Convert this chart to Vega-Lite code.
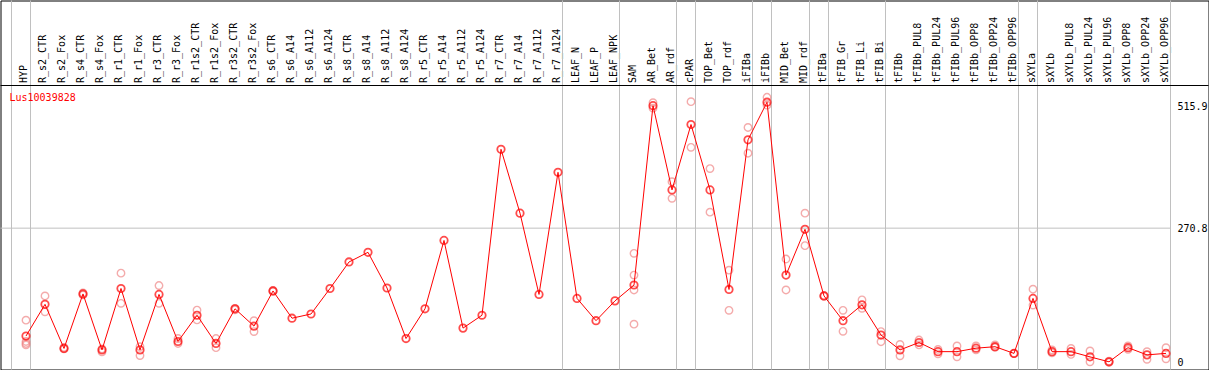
{
  "$schema": "https://vega.github.io/schema/vega-lite/v6.json",
  "width": 1208,
  "height": 369,
  "autosize": "none",
  "padding": {"left": 0.5, "top": 0.5, "right": 0, "bottom": 0},
  "background": "white",
  "config": {
    "view": {"stroke": "black", "strokeWidth": 1},
    "font": "DejaVu Sans Mono",
    "axis": {"labelOverlap": false, "labelFlush": false, "grid": false, "ticks": false, "domain": false, "title": null}
  },
  "title": {
    "text": "Lus10039828",
    "color": "#ff0000",
    "font": "DejaVu Sans Mono",
    "fontSize": 10,
    "fontWeight": "normal",
    "anchor": "start",
    "frame": "group",
    "orient": "top",
    "baseline": "alphabetic",
    "offset": 0,
    "dx": 9,
    "dy": 111
  },
  "datasets": {
    "pts": [
      {"i": 0, "name": "HYP", "v": 53},
      {"i": 1, "name": "R_s2_CTR", "v": 117},
      {"i": 2, "name": "R_s2_Fox", "v": 28},
      {"i": 3, "name": "R_s4_CTR", "v": 138},
      {"i": 4, "name": "R_s4_Fox", "v": 25},
      {"i": 5, "name": "R_r1_CTR", "v": 149},
      {"i": 6, "name": "R_r1_Fox", "v": 25},
      {"i": 7, "name": "R_r3_CTR", "v": 137},
      {"i": 8, "name": "R_r3_Fox", "v": 42},
      {"i": 9, "name": "R_r1s2_CTR", "v": 95},
      {"i": 10, "name": "R_r1s2_Fox", "v": 38},
      {"i": 11, "name": "R_r3s2_CTR", "v": 108},
      {"i": 12, "name": "R_r3s2_Fox", "v": 73},
      {"i": 13, "name": "R_s6_CTR", "v": 144},
      {"i": 14, "name": "R_s6_A14", "v": 89},
      {"i": 15, "name": "R_s6_A112", "v": 97.5},
      {"i": 16, "name": "R_s6_A124", "v": 149},
      {"i": 17, "name": "R_s8_CTR", "v": 202.5},
      {"i": 18, "name": "R_s8_A14", "v": 222},
      {"i": 19, "name": "R_s8_A112", "v": 150},
      {"i": 20, "name": "R_s8_A124", "v": 48},
      {"i": 21, "name": "R_r5_CTR", "v": 108},
      {"i": 22, "name": "R_r5_A14", "v": 246},
      {"i": 23, "name": "R_r5_A112", "v": 69},
      {"i": 24, "name": "R_r5_A124", "v": 95},
      {"i": 25, "name": "R_r7_CTR", "v": 430},
      {"i": 26, "name": "R_r7_A14", "v": 301},
      {"i": 27, "name": "R_r7_A112", "v": 137},
      {"i": 28, "name": "R_r7_A124", "v": 383.5},
      {"i": 29, "name": "LEAF_N", "v": 129},
      {"i": 30, "name": "LEAF_P", "v": 84},
      {"i": 31, "name": "LEAF_NPK", "v": 124},
      {"i": 32, "name": "SAM", "v": 156},
      {"i": 33, "name": "AR_Bet", "v": 518},
      {"i": 34, "name": "AR_rdf", "v": 348},
      {"i": 35, "name": "cPAR", "v": 480},
      {"i": 36, "name": "TOP_Bet", "v": 348},
      {"i": 37, "name": "TOP_rdf", "v": 147},
      {"i": 38, "name": "iFIBa", "v": 449},
      {"i": 39, "name": "iFIBb", "v": 525},
      {"i": 40, "name": "MID_Bet", "v": 176},
      {"i": 41, "name": "MID_rdf", "v": 268.5},
      {"i": 42, "name": "tFIBa", "v": 134},
      {"i": 43, "name": "tFIB_Gr", "v": 84},
      {"i": 44, "name": "tFIB_Li", "v": 116},
      {"i": 45, "name": "tFIB_Bi", "v": 55},
      {"i": 46, "name": "tFIBb", "v": 25},
      {"i": 47, "name": "tFIBb_PUL8", "v": 40},
      {"i": 48, "name": "tFIBb_PUL24", "v": 21.5},
      {"i": 49, "name": "tFIBb_PUL96", "v": 21.5},
      {"i": 50, "name": "tFIBb_OPP8", "v": 28.5},
      {"i": 51, "name": "tFIBb_OPP24", "v": 31.5},
      {"i": 52, "name": "tFIBb_OPP96", "v": 18},
      {"i": 53, "name": "sXYLa", "v": 129},
      {"i": 54, "name": "sXYLb", "v": 21.5},
      {"i": 55, "name": "sXYLb_PUL8", "v": 21.5},
      {"i": 56, "name": "sXYLb_PUL24", "v": 11},
      {"i": 57, "name": "sXYLb_PUL96", "v": 1},
      {"i": 58, "name": "sXYLb_OPP8", "v": 29.5},
      {"i": 59, "name": "sXYLb_OPP24", "v": 15},
      {"i": 60, "name": "sXYLb_OPP96", "v": 18}
    ],
    "reps": [
      {"i": 0, "v": 85}, {"i": 0, "v": 42}, {"i": 0, "v": 38}, {"i": 0, "v": 35},
      {"i": 1, "v": 134}, {"i": 1, "v": 102},
      {"i": 2, "v": 27}, {"i": 2, "v": 30},
      {"i": 3, "v": 140}, {"i": 3, "v": 136},
      {"i": 4, "v": 27}, {"i": 4, "v": 21},
      {"i": 5, "v": 180}, {"i": 5, "v": 119},
      {"i": 6, "v": 31.5}, {"i": 6, "v": 13.5},
      {"i": 7, "v": 155}, {"i": 7, "v": 119},
      {"i": 8, "v": 48}, {"i": 8, "v": 38},
      {"i": 9, "v": 105.5}, {"i": 9, "v": 85.5},
      {"i": 10, "v": 48}, {"i": 10, "v": 29.5},
      {"i": 11, "v": 106}, {"i": 11, "v": 109},
      {"i": 12, "v": 84}, {"i": 12, "v": 62},
      {"i": 13, "v": 143}, {"i": 13, "v": 145},
      {"i": 32, "v": 220}, {"i": 32, "v": 176}, {"i": 32, "v": 146}, {"i": 32, "v": 77},
      {"i": 33, "v": 524}, {"i": 33, "v": 513},
      {"i": 34, "v": 364.5}, {"i": 34, "v": 331},
      {"i": 35, "v": 526}, {"i": 35, "v": 434},
      {"i": 36, "v": 391}, {"i": 36, "v": 303},
      {"i": 37, "v": 186}, {"i": 37, "v": 105},
      {"i": 38, "v": 474}, {"i": 38, "v": 422},
      {"i": 39, "v": 535}, {"i": 39, "v": 519},
      {"i": 40, "v": 208.5}, {"i": 40, "v": 146},
      {"i": 41, "v": 301}, {"i": 41, "v": 235.5},
      {"i": 42, "v": 133}, {"i": 42, "v": 135},
      {"i": 43, "v": 105}, {"i": 43, "v": 62.5},
      {"i": 44, "v": 126}, {"i": 44, "v": 109},
      {"i": 45, "v": 62}, {"i": 45, "v": 41.5},
      {"i": 46, "v": 36}, {"i": 46, "v": 13},
      {"i": 47, "v": 45}, {"i": 47, "v": 35},
      {"i": 48, "v": 26}, {"i": 48, "v": 17},
      {"i": 49, "v": 33}, {"i": 49, "v": 11},
      {"i": 50, "v": 33}, {"i": 50, "v": 25},
      {"i": 51, "v": 35}, {"i": 51, "v": 30},
      {"i": 52, "v": 18}, {"i": 52, "v": 18},
      {"i": 53, "v": 147.5}, {"i": 53, "v": 115.5},
      {"i": 54, "v": 25}, {"i": 54, "v": 19},
      {"i": 55, "v": 28}, {"i": 55, "v": 16},
      {"i": 56, "v": 23}, {"i": 56, "v": 1},
      {"i": 57, "v": 2.5}, {"i": 57, "v": 0},
      {"i": 58, "v": 33}, {"i": 58, "v": 26},
      {"i": 59, "v": 21.5}, {"i": 59, "v": 6},
      {"i": 60, "v": 29.5}, {"i": 60, "v": 7}
    ],
    "seps": [
      {"i": -0.763}, {"i": 0.237}, {"i": 28.237}, {"i": 31.237}, {"i": 34.237},
      {"i": 35.237}, {"i": 38.237}, {"i": 39.237}, {"i": 41.237}, {"i": 42.237},
      {"i": 45.237}, {"i": 52.237}, {"i": 53.237}, {"i": 60.237}
    ],
    "grid": [{"i": -1.3421, "i2": 60.237, "v": 270.8}],
    "frame": [{"v": 558.7}]
  },
  "layer": [
    {
      "data": {"name": "seps"},
      "mark": {"type": "rule", "color": "#c0c0c0", "strokeWidth": 1},
      "encoding": {
        "x": {
          "field": "i", "type": "quantitative",
          "scale": {"domain": [-1.3421, 62.2368], "nice": false, "zero": false},
          "axis": {
            "orient": "top",
            "values": [0,1,2,3,4,5,6,7,8,9,10,11,12,13,14,15,16,17,18,19,20,21,22,23,24,25,26,27,28,29,30,31,32,33,34,35,36,37,38,39,40,41,42,43,44,45,46,47,48,49,50,51,52,53,54,55,56,57,58,59,60],
            "tickCount": 61,
            "labelExpr": "['HYP','R_s2_CTR','R_s2_Fox','R_s4_CTR','R_s4_Fox','R_r1_CTR','R_r1_Fox','R_r3_CTR','R_r3_Fox','R_r1s2_CTR','R_r1s2_Fox','R_r3s2_CTR','R_r3s2_Fox','R_s6_CTR','R_s6_A14','R_s6_A112','R_s6_A124','R_s8_CTR','R_s8_A14','R_s8_A112','R_s8_A124','R_r5_CTR','R_r5_A14','R_r5_A112','R_r5_A124','R_r7_CTR','R_r7_A14','R_r7_A112','R_r7_A124','LEAF_N','LEAF_P','LEAF_NPK','SAM','AR_Bet','AR_rdf','cPAR','TOP_Bet','TOP_rdf','iFIBa','iFIBb','MID_Bet','MID_rdf','tFIBa','tFIB_Gr','tFIB_Li','tFIB_Bi','tFIBb','tFIBb_PUL8','tFIBb_PUL24','tFIBb_PUL96','tFIBb_OPP8','tFIBb_OPP24','tFIBb_OPP96','sXYLa','sXYLb','sXYLb_PUL8','sXYLb_PUL24','sXYLb_PUL96','sXYLb_OPP8','sXYLb_OPP24','sXYLb_OPP96'][datum.value] || ''",
            "labelAngle": 270, "labelAlign": "left", "labelBaseline": "middle", "labelOffset": -2, "labelPadding": -82,
            "labelFont": "DejaVu Sans Mono", "labelFontSize": 10, "labelColor": "black",
            "labelOverlap": false, "labelFlush": false, "labelBound": false, "labelLimit": 0,
            "ticks": false, "tickSize": 0, "domain": false, "grid": false, "title": null
          }
        }
      }
    },
    {
      "data": {"name": "grid"},
      "mark": {"type": "rule", "color": "#c0c0c0", "strokeWidth": 1},
      "encoding": {
        "x": {
          "field": "i", "type": "quantitative",
          "scale": {"domain": [-1.3421, 62.2368], "nice": false, "zero": false},
          "axis": {
            "orient": "top",
            "values": [0,1,2,3,4,5,6,7,8,9,10,11,12,13,14,15,16,17,18,19,20,21,22,23,24,25,26,27,28,29,30,31,32,33,34,35,36,37,38,39,40,41,42,43,44,45,46,47,48,49,50,51,52,53,54,55,56,57,58,59,60],
            "tickCount": 61,
            "labelExpr": "['HYP','R_s2_CTR','R_s2_Fox','R_s4_CTR','R_s4_Fox','R_r1_CTR','R_r1_Fox','R_r3_CTR','R_r3_Fox','R_r1s2_CTR','R_r1s2_Fox','R_r3s2_CTR','R_r3s2_Fox','R_s6_CTR','R_s6_A14','R_s6_A112','R_s6_A124','R_s8_CTR','R_s8_A14','R_s8_A112','R_s8_A124','R_r5_CTR','R_r5_A14','R_r5_A112','R_r5_A124','R_r7_CTR','R_r7_A14','R_r7_A112','R_r7_A124','LEAF_N','LEAF_P','LEAF_NPK','SAM','AR_Bet','AR_rdf','cPAR','TOP_Bet','TOP_rdf','iFIBa','iFIBb','MID_Bet','MID_rdf','tFIBa','tFIB_Gr','tFIB_Li','tFIB_Bi','tFIBb','tFIBb_PUL8','tFIBb_PUL24','tFIBb_PUL96','tFIBb_OPP8','tFIBb_OPP24','tFIBb_OPP96','sXYLa','sXYLb','sXYLb_PUL8','sXYLb_PUL24','sXYLb_PUL96','sXYLb_OPP8','sXYLb_OPP24','sXYLb_OPP96'][datum.value] || ''",
            "labelAngle": 270, "labelAlign": "left", "labelBaseline": "middle", "labelOffset": -2, "labelPadding": -82,
            "labelFont": "DejaVu Sans Mono", "labelFontSize": 10, "labelColor": "black",
            "labelOverlap": false, "labelFlush": false, "labelBound": false, "labelLimit": 0,
            "ticks": false, "tickSize": 0, "domain": false, "grid": false, "title": null
          }
        },
        "x2": {"field": "i2"},
        "y": {
          "field": "v", "type": "quantitative",
          "scale": {"domain": [-14.53, 730.3], "nice": false, "zero": false},
          "axis": {
            "orient": "right", "values": [0, 270.8, 515.9], "format": ".1~f",
            "labelPadding": -31.5, "labelAlign": "left", "labelBaseline": "middle",
            "labelFont": "DejaVu Sans Mono", "labelFontSize": 10, "labelColor": "black",
            "labelOverlap": false, "labelFlush": false, "ticks": false, "tickSize": 0, "domain": false, "grid": false, "title": null
          }
        }
      }
    },
    {
      "data": {"name": "frame"},
      "mark": {"type": "rule", "color": "black", "strokeWidth": 1},
      "encoding": {
        "y": {
          "field": "v", "type": "quantitative",
          "scale": {"domain": [-14.53, 730.3], "nice": false, "zero": false},
          "axis": {
            "orient": "right", "values": [0, 270.8, 515.9], "format": ".1~f",
            "labelPadding": -31.5, "labelAlign": "left", "labelBaseline": "middle",
            "labelFont": "DejaVu Sans Mono", "labelFontSize": 10, "labelColor": "black",
            "labelOverlap": false, "labelFlush": false, "ticks": false, "tickSize": 0, "domain": false, "grid": false, "title": null
          }
        }
      }
    },
    {
      "data": {"name": "reps"},
      "mark": {"type": "point", "filled": false, "shape": "circle", "size": 55, "stroke": "#f08888", "strokeWidth": 1.4},
      "encoding": {
        "x": {
          "field": "i", "type": "quantitative",
          "scale": {"domain": [-1.3421, 62.2368], "nice": false, "zero": false},
          "axis": {
            "orient": "top",
            "values": [0,1,2,3,4,5,6,7,8,9,10,11,12,13,14,15,16,17,18,19,20,21,22,23,24,25,26,27,28,29,30,31,32,33,34,35,36,37,38,39,40,41,42,43,44,45,46,47,48,49,50,51,52,53,54,55,56,57,58,59,60],
            "tickCount": 61,
            "labelExpr": "['HYP','R_s2_CTR','R_s2_Fox','R_s4_CTR','R_s4_Fox','R_r1_CTR','R_r1_Fox','R_r3_CTR','R_r3_Fox','R_r1s2_CTR','R_r1s2_Fox','R_r3s2_CTR','R_r3s2_Fox','R_s6_CTR','R_s6_A14','R_s6_A112','R_s6_A124','R_s8_CTR','R_s8_A14','R_s8_A112','R_s8_A124','R_r5_CTR','R_r5_A14','R_r5_A112','R_r5_A124','R_r7_CTR','R_r7_A14','R_r7_A112','R_r7_A124','LEAF_N','LEAF_P','LEAF_NPK','SAM','AR_Bet','AR_rdf','cPAR','TOP_Bet','TOP_rdf','iFIBa','iFIBb','MID_Bet','MID_rdf','tFIBa','tFIB_Gr','tFIB_Li','tFIB_Bi','tFIBb','tFIBb_PUL8','tFIBb_PUL24','tFIBb_PUL96','tFIBb_OPP8','tFIBb_OPP24','tFIBb_OPP96','sXYLa','sXYLb','sXYLb_PUL8','sXYLb_PUL24','sXYLb_PUL96','sXYLb_OPP8','sXYLb_OPP24','sXYLb_OPP96'][datum.value] || ''",
            "labelAngle": 270, "labelAlign": "left", "labelBaseline": "middle", "labelOffset": -2, "labelPadding": -82,
            "labelFont": "DejaVu Sans Mono", "labelFontSize": 10, "labelColor": "black",
            "labelOverlap": false, "labelFlush": false, "labelBound": false, "labelLimit": 0,
            "ticks": false, "tickSize": 0, "domain": false, "grid": false, "title": null
          }
        },
        "y": {
          "field": "v", "type": "quantitative",
          "scale": {"domain": [-14.53, 730.3], "nice": false, "zero": false},
          "axis": {
            "orient": "right", "values": [0, 270.8, 515.9], "format": ".1~f",
            "labelPadding": -31.5, "labelAlign": "left", "labelBaseline": "middle",
            "labelFont": "DejaVu Sans Mono", "labelFontSize": 10, "labelColor": "black",
            "labelOverlap": false, "labelFlush": false, "ticks": false, "tickSize": 0, "domain": false, "grid": false, "title": null
          }
        }
      }
    },
    {
      "data": {"name": "pts"},
      "encoding": {
        "x": {
          "field": "i", "type": "quantitative",
          "scale": {"domain": [-1.3421, 62.2368], "nice": false, "zero": false},
          "axis": {
            "orient": "top",
            "values": [0,1,2,3,4,5,6,7,8,9,10,11,12,13,14,15,16,17,18,19,20,21,22,23,24,25,26,27,28,29,30,31,32,33,34,35,36,37,38,39,40,41,42,43,44,45,46,47,48,49,50,51,52,53,54,55,56,57,58,59,60],
            "tickCount": 61,
            "labelExpr": "['HYP','R_s2_CTR','R_s2_Fox','R_s4_CTR','R_s4_Fox','R_r1_CTR','R_r1_Fox','R_r3_CTR','R_r3_Fox','R_r1s2_CTR','R_r1s2_Fox','R_r3s2_CTR','R_r3s2_Fox','R_s6_CTR','R_s6_A14','R_s6_A112','R_s6_A124','R_s8_CTR','R_s8_A14','R_s8_A112','R_s8_A124','R_r5_CTR','R_r5_A14','R_r5_A112','R_r5_A124','R_r7_CTR','R_r7_A14','R_r7_A112','R_r7_A124','LEAF_N','LEAF_P','LEAF_NPK','SAM','AR_Bet','AR_rdf','cPAR','TOP_Bet','TOP_rdf','iFIBa','iFIBb','MID_Bet','MID_rdf','tFIBa','tFIB_Gr','tFIB_Li','tFIB_Bi','tFIBb','tFIBb_PUL8','tFIBb_PUL24','tFIBb_PUL96','tFIBb_OPP8','tFIBb_OPP24','tFIBb_OPP96','sXYLa','sXYLb','sXYLb_PUL8','sXYLb_PUL24','sXYLb_PUL96','sXYLb_OPP8','sXYLb_OPP24','sXYLb_OPP96'][datum.value] || ''",
            "labelAngle": 270, "labelAlign": "left", "labelBaseline": "middle", "labelOffset": -2, "labelPadding": -82,
            "labelFont": "DejaVu Sans Mono", "labelFontSize": 10, "labelColor": "black",
            "labelOverlap": false, "labelFlush": false, "labelBound": false, "labelLimit": 0,
            "ticks": false, "tickSize": 0, "domain": false, "grid": false, "title": null
          }
        },
        "y": {
          "field": "v", "type": "quantitative",
          "scale": {"domain": [-14.53, 730.3], "nice": false, "zero": false},
          "axis": {
            "orient": "right", "values": [0, 270.8, 515.9], "format": ".1~f",
            "labelPadding": -31.5, "labelAlign": "left", "labelBaseline": "middle",
            "labelFont": "DejaVu Sans Mono", "labelFontSize": 10, "labelColor": "black",
            "labelOverlap": false, "labelFlush": false, "ticks": false, "tickSize": 0, "domain": false, "grid": false, "title": null
          }
        }
      },
      "layer": [
        {"mark": {"type": "line", "color": "#ff0000", "strokeWidth": 1}},
        {"mark": {"type": "point", "filled": false, "shape": "circle", "size": 55, "stroke": "#ff0000", "strokeWidth": 1.8}}
      ]
    }
  ]
}
